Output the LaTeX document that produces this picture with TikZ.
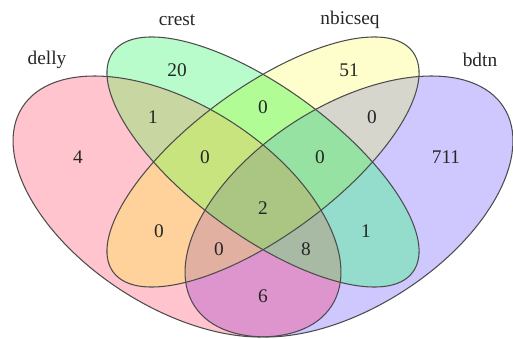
\documentclass[tikz,border=0pt]{standalone}
\usepackage{fontspec}
\setmainfont{Liberation Serif}

%% ── Region colours ──────────────────────────────────────────────────────────
\definecolor{cD}{RGB}{255,196,206}
\definecolor{cC}{RGB}{184,252,204}
\definecolor{cN}{RGB}{254,254,204}
\definecolor{cB}{RGB}{206,200,254}
\definecolor{cDC}{RGB}{200,214,162}
\definecolor{cDN}{RGB}{254,210,154}
\definecolor{cDB}{RGB}{222,148,204}
\definecolor{cCN}{RGB}{178,252,150}
\definecolor{cCB}{RGB}{148,220,204}
\definecolor{cNB}{RGB}{214,214,204}
\definecolor{cDCN}{RGB}{200,228,126}
\definecolor{cDCB}{RGB}{168,186,164}
\definecolor{cDNB}{RGB}{226,176,160}
\definecolor{cCNB}{RGB}{150,226,162}
\definecolor{cAll}{RGB}{170,198,130}

%% ── Ellipse outlines (outer pair / inner pair) ──────────────────────────────
\newcommand{\outerE}{(0,0) ellipse (3.676 and 2.012)}
\newcommand{\innerE}{(0,0) ellipse (3.718 and 1.472)}

\begin{document}
\begin{tikzpicture}[
  every node/.style={font=\fontsize{11}{13}\selectfont, text=black!85},
  %% ── Set placement styles ────────────────────────────────────────────────
  eD/.style={shift={(3.54,2.63)}, rotate=-32.7},
  eC/.style={shift={(5.26,3.52)}, rotate=-36.3},
  eN/.style={shift={(5.26,3.52)}, rotate=36.3},
  eB/.style={shift={(6.98,2.63)}, rotate=32.7},
  setring/.style={draw=black!70, line width=0.6pt},
  %% ── Label styles ────────────────────────────────────────────────────────
  setname/.style={inner sep=1pt},
  count/.style={inner sep=1pt},
]

\useasboundingbox (0,0) rectangle (10.26,6.76);

%% ═══════════════════════════════════════════════════════════════════════════
%% REGION FILLS (singles, then pairs, triples, all four)
%% ═══════════════════════════════════════════════════════════════════════════

\fill[cD, eD] \outerE;
\fill[cC, eC] \innerE;
\fill[cN, eN] \innerE;
\fill[cB, eB] \outerE;

%% — pairs ───────────────────────────────────────────────────────────────────
\begin{scope}\clip[eD] \outerE; \fill[cDC, eC] \innerE; \end{scope}
\begin{scope}\clip[eD] \outerE; \fill[cDN, eN] \innerE; \end{scope}
\begin{scope}\clip[eD] \outerE; \fill[cDB, eB] \outerE; \end{scope}
\begin{scope}\clip[eC] \innerE; \fill[cCN, eN] \innerE; \end{scope}
\begin{scope}\clip[eC] \innerE; \fill[cCB, eB] \outerE; \end{scope}
\begin{scope}\clip[eN] \innerE; \fill[cNB, eB] \outerE; \end{scope}

%% — triples ─────────────────────────────────────────────────────────────────
\begin{scope}\clip[eD] \outerE; \clip[eC] \innerE; \fill[cDCN, eN] \innerE; \end{scope}
\begin{scope}\clip[eD] \outerE; \clip[eC] \innerE; \fill[cDCB, eB] \outerE; \end{scope}
\begin{scope}\clip[eD] \outerE; \clip[eN] \innerE; \fill[cDNB, eB] \outerE; \end{scope}
\begin{scope}\clip[eC] \innerE; \clip[eN] \innerE; \fill[cCNB, eB] \outerE; \end{scope}

%% — all four ────────────────────────────────────────────────────────────────
\begin{scope}
  \clip[eD] \outerE; \clip[eC] \innerE; \clip[eN] \innerE;
  \fill[cAll, eB] \outerE;
\end{scope}

%% — outlines on top ─────────────────────────────────────────────────────────
\draw[setring, eD] \outerE;
\draw[setring, eC] \innerE;
\draw[setring, eN] \innerE;
\draw[setring, eB] \outerE;

%% ═══════════════════════════════════════════════════════════════════════════
%% SET NAMES
%% ═══════════════════════════════════════════════════════════════════════════

\node[setname] (delly) at (0.94, 5.56) {delly};
\node[setname] (crest) at (3.54, 6.36) {crest};
\node[setname] (nbic)  at (7.00, 6.36) {nbicseq};
\node[setname] (bdtn)  at (9.60, 5.56) {bdtn};

%% ═══════════════════════════════════════════════════════════════════════════
%% REGION COUNTS
%% ═══════════════════════════════════════════════════════════════════════════

%% — single sets ─────────────────────────────────────────────────────────────
\node[count] (nD)    at (1.56, 3.62) {4};
\node[count] (nC)    at (3.54, 5.36) {20};
\node[count] (nN)    at (6.98, 5.36) {51};
\node[count] (nB)    at (8.92, 3.62) {711};

%% — pairs ───────────────────────────────────────────────────────────────────
\node[count] (nDC)   at (3.06, 4.42) {1};
\node[count] (nCN)   at (5.26, 4.62) {0};
\node[count] (nNB)   at (7.44, 4.42) {0};
\node[count] (nDN)   at (3.18, 2.14) {0};
\node[count] (nCB)   at (7.32, 2.14) {1};
\node[count] (nDB)   at (5.26, 0.84) {6};

%% — triples ─────────────────────────────────────────────────────────────────
\node[count] (nDCN)  at (4.10, 3.62) {0};
\node[count] (nCNB)  at (6.40, 3.62) {0};
\node[count] (nDNB)  at (4.38, 1.78) {0};
\node[count] (nDCB)  at (6.12, 1.78) {8};

%% — all four ────────────────────────────────────────────────────────────────
\node[count] (nAll)  at (5.26, 2.60) {2};

\end{tikzpicture}
\end{document}
